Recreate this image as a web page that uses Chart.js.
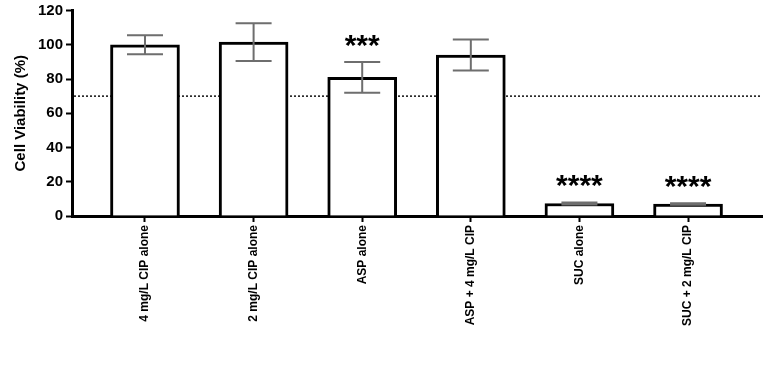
<!DOCTYPE html>
<html>
<head>
<meta charset="utf-8">
<script src="https://cdn.jsdelivr.net/npm/chart.js@4"></script>
<style>
  html, body { margin: 0; padding: 0; background: #fff; }
  #wrap { width: 768px; height: 375px; }
</style>
</head>
<body>
<div id="wrap"><canvas id="chart"></canvas></div>
<script>
// Données
const categories = ['4 mg/L CIP alone', '2 mg/L CIP alone', 'ASP alone', 'ASP + 4 mg/L CIP', 'SUC alone', 'SUC + 2 mg/L CIP'];
const viability = [100, 101.5, 81, 94, 7.3, 7];
const errors = [5.5, 11, 9, 9, 0.6, 0.5];
const stars = ['', '', '***', '', '****', '****'];
const yTicks = [0, 20, 40, 60, 80, 100, 120];
const threshold = 70;

const FONT = '"Liberation Sans", Arial, Helvetica, sans-serif';

// Ligne pointillée du seuil (derrière les barres)
const thresholdLine = {
  id: 'thresholdLine',
  beforeDatasetsDraw(chart) {
    const ctx = chart.ctx;
    const area = chart.chartArea;
    const y = chart.scales.y.getPixelForValue(threshold);
    ctx.save();
    ctx.strokeStyle = '#111';
    ctx.lineWidth = 1.5;
    ctx.setLineDash([2, 2]);
    ctx.beginPath();
    ctx.moveTo(area.left + 2, y);
    ctx.lineTo(area.right, y);
    ctx.stroke();
    ctx.restore();
  }
};

// Barres d'erreur et étoiles de significativité
const errorBars = {
  id: 'errorBars',
  afterDatasetsDraw(chart) {
    const ctx = chart.ctx;
    const yScale = chart.scales.y;
    const meta = chart.getDatasetMeta(0);
    ctx.save();
    meta.data.forEach((bar, i) => {
      const x = bar.x;
      const top = yScale.getPixelForValue(viability[i] + errors[i]);
      const bottom = yScale.getPixelForValue(viability[i] - errors[i]);
      ctx.strokeStyle = '#6e6e6e';
      ctx.lineWidth = 2;
      ctx.beginPath();
      ctx.moveTo(x, top);
      ctx.lineTo(x, bottom);
      ctx.moveTo(x - 18, top);
      ctx.lineTo(x + 18, top);
      ctx.moveTo(x - 18, bottom);
      ctx.lineTo(x + 18, bottom);
      ctx.stroke();

      if (stars[i]) {
        ctx.fillStyle = '#000';
        ctx.font = 'bold 30px ' + FONT;
        ctx.textAlign = 'center';
        ctx.textBaseline = 'alphabetic';
        ctx.fillText(stars[i], x, top - 7);
      }
    });
    ctx.restore();
  }
};

const ctx = document.getElementById('chart').getContext('2d');
new Chart(ctx, {
  type: 'bar',
  data: {
    datasets: [{
      data: viability.map((v, i) => ({ x: i, y: v })),
      backgroundColor: '#fff',
      borderColor: '#000',
      borderWidth: 3,
      barThickness: 69
    }]
  },
  options: {
    responsive: true,
    maintainAspectRatio: false,
    animation: false,
    layout: { padding: { right: 6, top: 0 } },
    plugins: {
      legend: { display: false },
      tooltip: { enabled: false }
    },
    scales: {
      x: {
        type: 'linear',
        offset: false,
        min: -0.672,
        max: 5.681,
        afterBuildTicks: scale => {
          scale.ticks = categories.map((c, i) => ({ value: i }));
        },
        afterFit: scale => { scale.height = 159; },
        ticks: {
          autoSkip: false,
          minRotation: 90,
          maxRotation: 90,
          padding: 3,
          color: '#000',
          font: { family: FONT, size: 12, weight: 'bold' },
          callback: value => categories[value]
        },
        grid: {
          offset: false,
          drawOnChartArea: false,
          tickLength: 6,
          tickWidth: 2,
          tickColor: '#000'
        },
        border: { color: '#000', width: 3 }
      },
      y: {
        min: 0,
        max: 120,
        afterBuildTicks: scale => {
          scale.ticks = yTicks.map(v => ({ value: v }));
        },
        afterFit: scale => { scale.width = 72; },
        ticks: {
          padding: 3,
          color: '#000',
          font: { family: FONT, size: 15, weight: 'bold', lineHeight: 1 }
        },
        grid: {
          drawOnChartArea: false,
          tickLength: 6,
          tickWidth: 2,
          tickColor: '#000'
        },
        border: { color: '#000', width: 3 },
        title: {
          display: true,
          text: 'Cell Viability (%)',
          color: '#000',
          padding: { top: 12, bottom: 0 },
          font: { family: FONT, size: 15, weight: 'bold' }
        }
      }
    }
  },
  plugins: [thresholdLine, errorBars]
});
</script>
</body>
</html>
